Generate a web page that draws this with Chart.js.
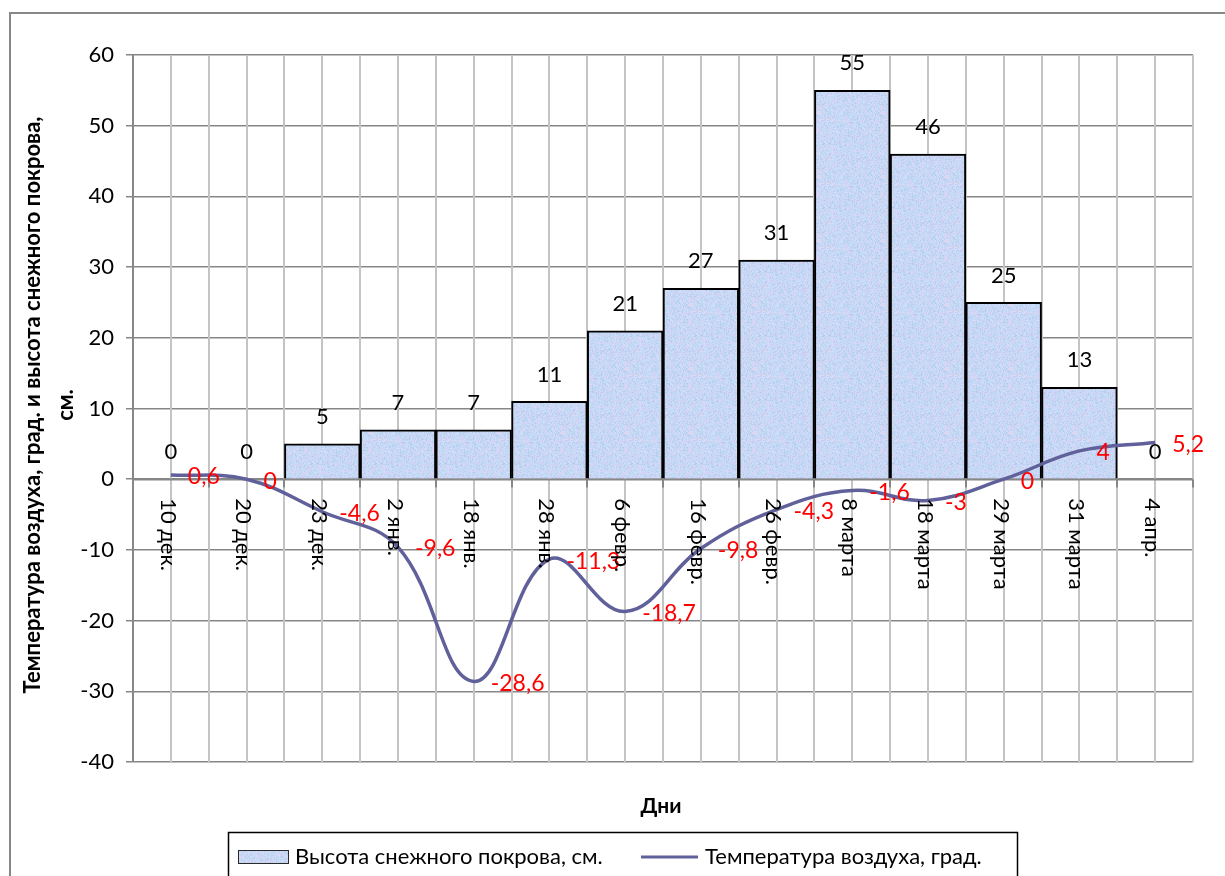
<!DOCTYPE html>
<html>
<head>
<meta charset="utf-8">
<script src="https://cdn.jsdelivr.net/npm/chart.js@4.4.1/dist/chart.umd.min.js"></script>
<style>
  html, body { margin: 0; padding: 0; background: #ffffff; }
  #wrap { position: relative; width: 1225px; height: 876px; }
</style>
</head>
<body>
<div id="wrap"><canvas id="chart" width="1225" height="876"></canvas></div>
<script>
// Observation dates
const categories = ['10 дек.', '20 дек.', '23 дек.', '2 янв.', '18 янв.', '28 янв.', '6 февр.',
  '16 февр.', '26 февр.', '8 марта', '18 марта', '29 марта', '31 марта', '4 апр.'];
// Snow cover depth, cm
const snowDepth = [0, 0, 5, 7, 7, 11, 21, 27, 31, 55, 46, 25, 13, 0];
// Air temperature, degrees
const airTemp = [0.6, 0, -4.6, -9.6, -28.6, -11.3, -18.7, -9.8, -4.3, -1.6, -3, 0, 4, 5.2];
// Value axis range and step
const yMin = -40, yMax = 60, yStep = 10;

const snowLabel = 'Высота снежного покрова, см.';
const tempLabel = 'Температура воздуха, град.';
const yTitleLines = ['Температура воздуха, град. и высота снежного покрова,', 'см.'];
const xTitle = 'Дни';

const FONT = 'Lato, "Open Sans", sans-serif';
const LINE_COLOR = '#60609a';
const AXIS_GREY = '#878787';
const GRID_LIGHT = '#c4c4c4';

// Speckled light-blue fill for the snow bars
function makeSnowPattern() {
  const size = 64;
  const c = document.createElement('canvas');
  c.width = size; c.height = size;
  const g = c.getContext('2d');
  const img = g.createImageData(size, size);
  for (let i = 0; i < size * size; i++) {
    const s = Math.sin(i * 12.9898 + 78.233) * 43758.5453;
    const h = s - Math.floor(s);
    const s2 = Math.sin(i * 4.1414 + 11.7) * 24634.6345;
    const h2 = s2 - Math.floor(s2);
    let r = 198, gg = 218, b = 245;
    if (h > 0.82) { r = 224; gg = 210; b = 241; }      // pinkish speck
    else if (h < 0.18) { r = 180; gg = 208; b = 243; } // deeper blue speck
    const d = Math.round((h2 - 0.5) * 14);
    img.data[i * 4] = r + d;
    img.data[i * 4 + 1] = gg + d;
    img.data[i * 4 + 2] = b + Math.round(d / 2);
    img.data[i * 4 + 3] = 255;
  }
  g.putImageData(img, 0, 0);
  return document.getElementById('chart').getContext('2d').createPattern(c, 'repeat');
}
const snowFill = makeSnowPattern();

function fmt(v) { return String(v).replace('.', ','); }

const decorations = {
  id: 'decorations',
  beforeDraw(chart) {
    const ctx = chart.ctx;
    ctx.save();
    ctx.fillStyle = '#ffffff';
    ctx.fillRect(0, 0, chart.width, chart.height);
    // outer chart frame (top and left edges visible)
    ctx.strokeStyle = AXIS_GREY;
    ctx.lineWidth = 2;
    ctx.beginPath();
    ctx.moveTo(10, chart.height + 2);
    ctx.lineTo(10, 13);
    ctx.lineTo(chart.width + 2, 13);
    ctx.stroke();
    ctx.restore();
  },
  beforeDatasetsDraw(chart) {
    const ctx = chart.ctx;
    const area = chart.chartArea;
    const x = chart.scales.x, y = chart.scales.y;
    const n = categories.length;
    const step = (area.right - area.left) / n;
    ctx.save();
    // vertical grid at category centres and boundaries
    ctx.strokeStyle = GRID_LIGHT;
    ctx.lineWidth = 2;
    ctx.beginPath();
    for (let i = 0; i <= n; i++) {
      const bx = Math.round(area.left + i * step);
      if (i > 0) { ctx.moveTo(bx, area.top); ctx.lineTo(bx, area.bottom); }
      if (i < n) {
        const cx = Math.round(x.getPixelForValue(i));
        ctx.moveTo(cx, area.top); ctx.lineTo(cx, area.bottom);
      }
    }
    ctx.stroke();
    // category axis crossing at zero, with tick marks
    const y0 = Math.round(y.getPixelForValue(0)) + 0.5;
    ctx.strokeStyle = AXIS_GREY;
    ctx.lineWidth = 2;
    ctx.beginPath();
    ctx.moveTo(area.left, y0); ctx.lineTo(area.right, y0);
    for (let i = 0; i <= n; i++) {
      const bx = Math.round(area.left + i * step);
      ctx.moveTo(bx, y0); ctx.lineTo(bx, y0 + 8);
    }
    ctx.stroke();
    ctx.restore();
  },
  afterDatasetsDraw(chart) {
    const ctx = chart.ctx;
    const x = chart.scales.x, y = chart.scales.y;
    const y0 = y.getPixelForValue(0);
    ctx.save();

    // snow depth values above bars
    ctx.fillStyle = '#000000';
    ctx.font = '22px ' + FONT;
    ctx.textAlign = 'center';
    ctx.textBaseline = 'middle';
    const barMeta = chart.getDatasetMeta(0);
    barMeta.data.forEach((bar, i) => {
      ctx.fillText(fmt(snowDepth[i]), bar.x, bar.y - 27);
    });

    // temperature values to the right of points
    ctx.fillStyle = '#ff0000';
    ctx.font = '23px ' + FONT;
    ctx.textAlign = 'left';
    const lineMeta = chart.getDatasetMeta(1);
    lineMeta.data.forEach((pt, i) => {
      ctx.fillText(fmt(airTemp[i]), pt.x + 17, pt.y + 2);
    });

    // category labels, rotated to read downward below the zero line
    ctx.fillStyle = '#000000';
    ctx.font = '22px ' + FONT;
    ctx.textAlign = 'left';
    ctx.textBaseline = 'middle';
    categories.forEach((c, i) => {
      const cx = x.getPixelForValue(i);
      ctx.save();
      ctx.translate(cx - 3, y0 + 19);
      ctx.rotate(Math.PI / 2);
      ctx.fillText(c, 0, 0);
      ctx.restore();
    });

    // value axis title
    ctx.font = 'bold 22px ' + FONT;
    ctx.textAlign = 'center';
    ctx.textBaseline = 'middle';
    ctx.save();
    ctx.translate(33, 405);
    ctx.rotate(-Math.PI / 2);
    ctx.fillText(yTitleLines[0], 0, 0);
    ctx.fillText(yTitleLines[1], 0, 33);
    ctx.restore();

    // category axis title
    ctx.font = 'bold 21px ' + FONT;
    ctx.fillText(xTitle, 661, 806);

    // legend
    ctx.strokeStyle = '#000000';
    ctx.lineWidth = 1.5;
    ctx.strokeRect(228.5, 832.5, 789, 70);
    ctx.fillStyle = snowFill;
    ctx.fillRect(238, 850, 50, 13);
    ctx.strokeStyle = '#2a2a2a';
    ctx.lineWidth = 1;
    ctx.strokeRect(238.5, 850.5, 50, 13);
    ctx.fillStyle = '#000000';
    ctx.font = '22px ' + FONT;
    ctx.textAlign = 'left';
    ctx.fillText(snowLabel, 295, 857);
    ctx.strokeStyle = LINE_COLOR;
    ctx.lineWidth = 3;
    ctx.beginPath();
    ctx.moveTo(641, 857); ctx.lineTo(698, 857);
    ctx.stroke();
    ctx.fillText(tempLabel, 705, 857);

    ctx.restore();
  }
};

new Chart(document.getElementById('chart'), {
  data: {
    labels: categories,
    datasets: [
      {
        type: 'bar',
        label: snowLabel,
        data: snowDepth,
        backgroundColor: snowFill,
        borderColor: '#000000',
        borderWidth: 2,
        borderSkipped: 'bottom',
        categoryPercentage: 1.0,
        barPercentage: 1.0,
        order: 2
      },
      {
        type: 'line',
        label: tempLabel,
        data: airTemp,
        borderColor: LINE_COLOR,
        borderWidth: 3.5,
        pointRadius: 0,
        tension: 0.4,
        fill: false,
        order: 1
      }
    ]
  },
  options: {
    responsive: false,
    animation: false,
    devicePixelRatio: 1,
    layout: { padding: { top: 55, bottom: 114, left: 0, right: 32 } },
    plugins: {
      legend: { display: false },
      tooltip: { enabled: false },
      title: { display: false }
    },
    scales: {
      x: {
        display: false,
        offset: true,
        grid: { display: false }
      },
      y: {
        min: yMin,
        max: yMax,
        afterFit(scale) { scale.width = 133; },
        ticks: {
          stepSize: yStep,
          color: '#000000',
          padding: 12,
          font: { family: FONT, size: 22 }
        },
        grid: {
          color: AXIS_GREY,
          lineWidth: 1.5,
          drawTicks: true,
          tickLength: 7,
          tickColor: AXIS_GREY
        },
        border: { color: AXIS_GREY, width: 2 }
      }
    }
  },
  plugins: [decorations]
});
</script>
</body>
</html>
